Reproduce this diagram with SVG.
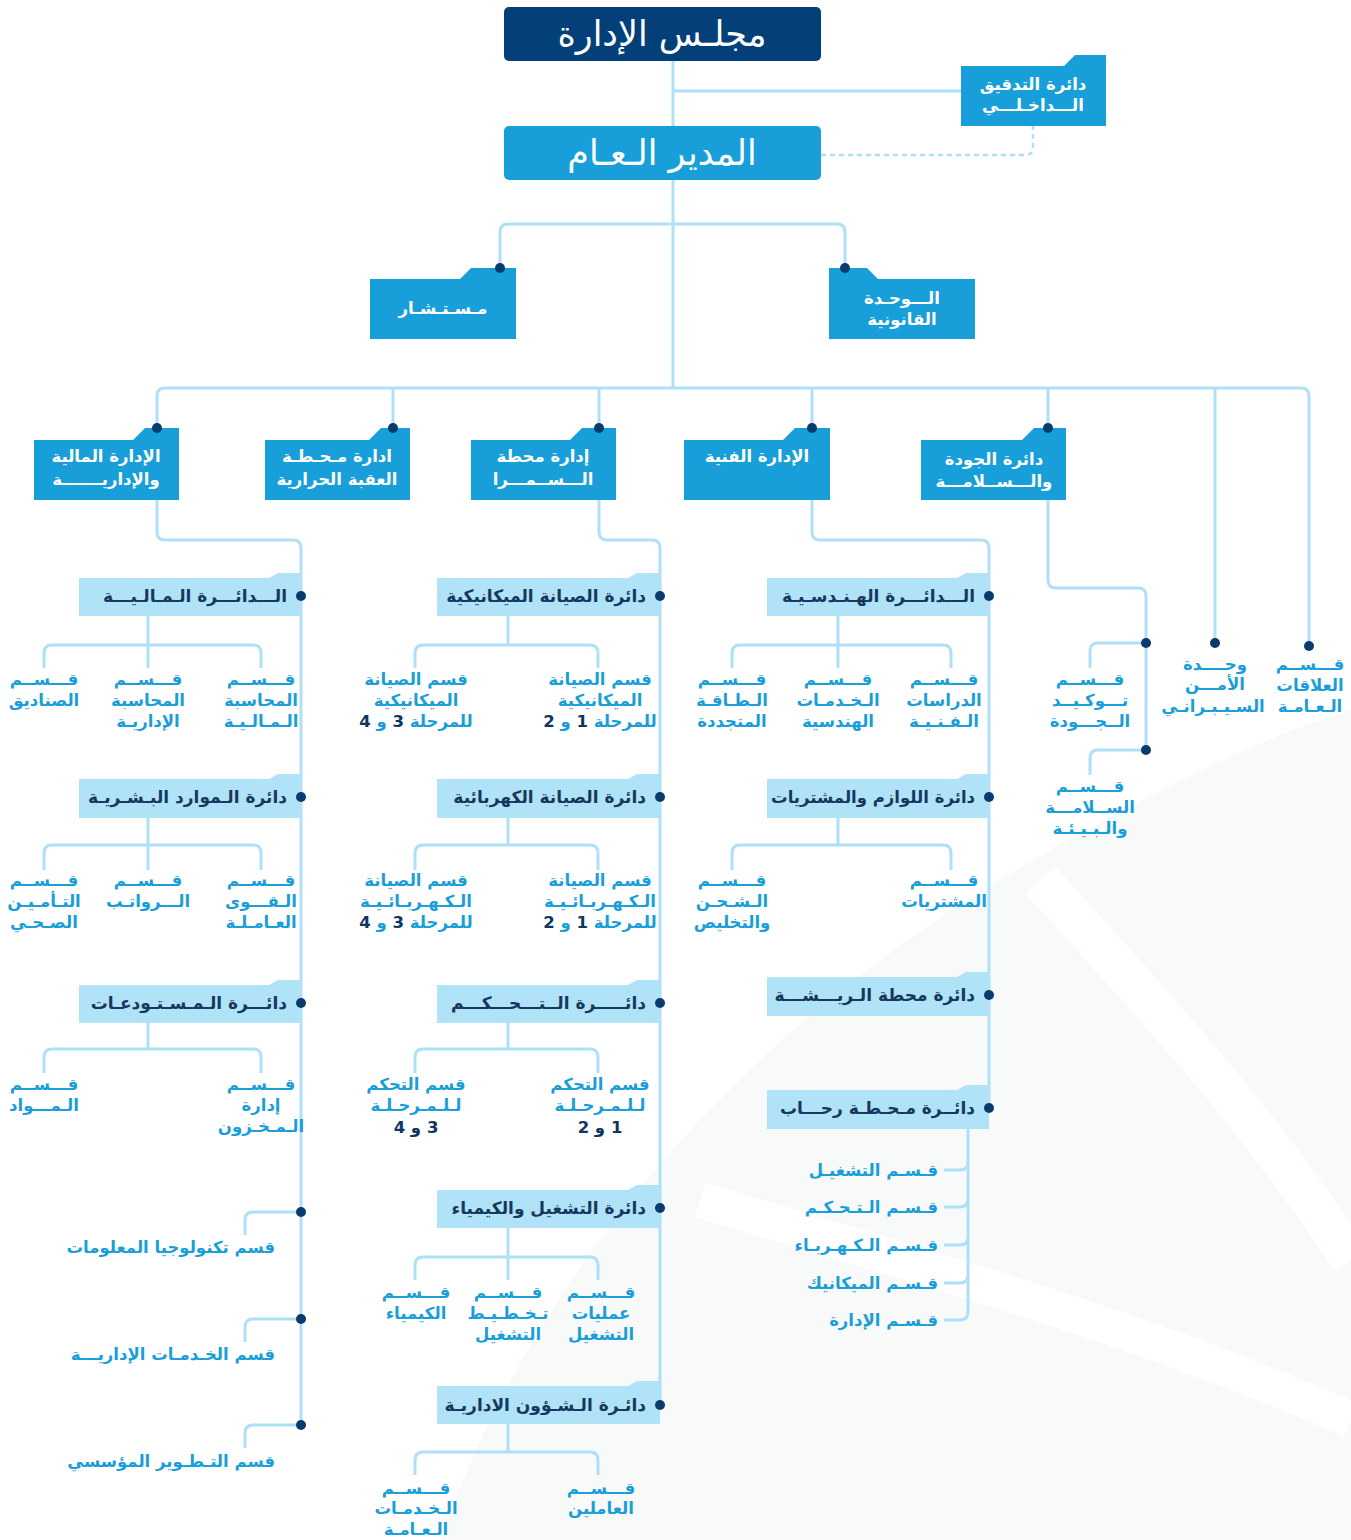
<svg xmlns="http://www.w3.org/2000/svg" width="1351" height="1540" viewBox="0 0 1351 1540">
<style>
text{font-family:"DejaVu Sans","Noto Sans",sans-serif;direction:rtl}
.t{fill:#fff;font-size:35px;text-anchor:middle}
.w{fill:#fff;font-size:16.5px;font-weight:bold;text-anchor:middle}
.d{fill:#16385f;font-size:17px;font-weight:bold;text-anchor:start}
.c{fill:#1a9ed9;font-size:16.5px;font-weight:bold;text-anchor:middle}
.r{fill:#1a9ed9;font-size:16.5px;font-weight:bold;text-anchor:start}
.n{fill:#0f3560}
.ln{fill:none;stroke:#aee0f7;stroke-width:3}
.dash{fill:none;stroke:#aee0f7;stroke-width:2.5;stroke-dasharray:5 4}
.bx{fill:#189fd9}
.lb{fill:#b0e2f8}
.dot{fill:#0a3b6c}
</style>
<g id="background">
<path d="M440,1540 C520,1310 700,1060 1000,880 C1150,790 1280,730 1351,710 V1540 Z" fill="#f8f9f9"/>
<path d="M1040,880 C1150,1000 1260,1120 1351,1260" fill="none" stroke="#fff" stroke-width="40"/>
<path d="M700,1200 C900,1260 1150,1330 1351,1420" fill="none" stroke="#fff" stroke-width="36"/>
</g>
<g id="connectors">
<path class="ln" d="M673,61 V388"/>
<path class="ln" d="M673,91 H961"/>
<path class="dash" d="M821,155 H1025 Q1033,155 1033,147 V126"/>
<path class="ln" d="M500,268 V232 Q500,224 508,224 H837 Q845,224 845,232 V268"/>
<path class="ln" d="M157,428 V396 Q157,388 165,388 H1301 Q1309,388 1309,396 V646"/>
<path class="ln" d="M393,388 V428 M599,388 V428 M812,388 V428 M1048,388 V428 M1215,388 V643"/>
<path class="ln" d="M157,500 V532 Q157,540 165,540 H293 Q301,540 301,548 V1425"/>
<path class="ln" d="M599,500 V532 Q599,540 607,540 H652 Q660,540 660,548 V1405"/>
<path class="ln" d="M812,500 V532 Q812,540 820,540 H981 Q989,540 989,548 V1108"/>
<path class="ln" d="M1048,500 V580 Q1048,588 1056,588 H1138 Q1146,588 1146,596 V750"/>
<path class="ln" d="M1146,643 H1098 Q1090,643 1090,651 V668 M1146,750 H1098 Q1090,750 1090,758 V775"/>
<path class="ln" d="M301,1212 H253 Q245,1212 245,1220 V1235 M301,1319 H253 Q245,1319 245,1327 V1342 M301,1425 H253 Q245,1425 245,1433 V1448"/>
<path class="ln" d="M148,616 V645 M44,668 V653 Q44,645 52,645 H253 Q261,645 261,653 V668 M148,645 V668"/>
<path class="ln" d="M148,818 V845 M44,870 V853 Q44,845 52,845 H253 Q261,845 261,853 V870 M148,845 V870"/>
<path class="ln" d="M148,1023 V1049 M44,1073 V1057 Q44,1049 52,1049 H253 Q261,1049 261,1057 V1073"/>
<path class="ln" d="M508,616 V645 M415,668 V653 Q415,645 423,645 H590 Q598,645 598,653 V668"/>
<path class="ln" d="M508,818 V845 M415,870 V853 Q415,845 423,845 H590 Q598,845 598,853 V870"/>
<path class="ln" d="M508,1023 V1049 M415,1073 V1057 Q415,1049 423,1049 H590 Q598,1049 598,1057 V1073"/>
<path class="ln" d="M508,1228 V1280 M415,1280 V1265 Q415,1257 423,1257 H590 Q598,1257 598,1265 V1280"/>
<path class="ln" d="M508,1424 V1452 M415,1475 V1460 Q415,1452 423,1452 H590 Q598,1452 598,1460 V1475"/>
<path class="ln" d="M838,616 V645 M732,668 V653 Q732,645 740,645 H943 Q951,645 951,653 V668 M838,645 V668"/>
<path class="ln" d="M838,818 V845 M732,870 V853 Q732,845 740,845 H943 Q951,845 951,853 V870"/>
<path class="ln" d="M968,1129 V1312 Q968,1320 960,1320 H944 M944,1170 H960 Q968,1170 968,1162 M944,1207 H960 Q968,1207 968,1199 M944,1245 H960 Q968,1245 968,1237 M944,1283 H960 Q968,1283 968,1275"/>
</g>
<g id="board"><rect x="504" y="7" width="317" height="54" rx="5" fill="#033f78"/><text class="t" x="662" y="46">مجلـس الإدارة</text></g>
<g id="gm"><rect x="504" y="126" width="317" height="54" rx="5" fill="#189fd9"/><text class="t" x="662" y="165">المدير الـعـام</text></g>
<g id="audit"><path class="bx" d="M961,66 H1064 L1075,55 H1106 V126 H961 Z"/><text class="w" x="1033" y="90">دائرة التدقيق</text><text class="w" x="1033" y="111">الـــداخـلـــي</text></g>
<g id="advisor"><path class="bx" d="M370,279 H460 L471,268 H516 V339 H370 Z"/><circle class="dot" cx="500" cy="268" r="5"/><text class="w" x="443" y="314">مـسـتـشـار</text></g>
<g id="legal"><path class="bx" d="M829,268 H867 L878,279 H975 V339 H829 Z"/><circle class="dot" cx="845" cy="268" r="5"/><text class="w" x="902" y="304">الـــوحـدة</text><text class="w" x="902" y="325">القانونية</text></g>
<g id="fin-admin"><path class="bx" d="M34,440 H133 L145,428 H179 V500 H34 Z"/><circle class="dot" cx="157" cy="428" r="5"/><text class="w" x="106" y="462">الإدارة المالية</text><text class="w" x="106" y="485">والإداريـــــــة</text></g>
<g id="aqaba"><path class="bx" d="M265,440 H369 L381,428 H410 V500 H265 Z"/><circle class="dot" cx="393" cy="428" r="5"/><text class="w" x="337" y="462">ادارة مـحـطـة</text><text class="w" x="337" y="485">العقبة الحرارية</text></g>
<g id="samra"><path class="bx" d="M471,440 H570 L582,428 H616 V500 H471 Z"/><circle class="dot" cx="599" cy="428" r="5"/><text class="w" x="543" y="462">إدارة محطة</text><text class="w" x="543" y="485">الـــســمـــرا</text></g>
<g id="technical"><path class="bx" d="M684,440 H783 L795,428 H830 V500 H684 Z"/><circle class="dot" cx="812" cy="428" r="5"/><text class="w" x="757" y="462">الإدارة الفنية</text></g>
<g id="quality"><path class="bx" d="M921,440 H1022 L1034,428 H1066 V500 H921 Z"/><circle class="dot" cx="1048" cy="428" r="5"/><text class="w" x="994" y="465">دائرة الجودة</text><text class="w" x="994" y="487">والـــســلامـــة</text></g>
<g id="cyber"><circle class="dot" cx="1215" cy="643" r="5"/><text class="c" x="1215" y="670">وحــــدة</text><text class="c" x="1215" y="690">الأمـــن</text><text class="c" x="1213" y="712">السـيـبـرانـي</text></g>
<g id="pr"><circle class="dot" cx="1309" cy="646" r="5"/><text class="c" x="1310" y="670">قـــســم</text><text class="c" x="1310" y="691">العلاقات</text><text class="c" x="1310" y="712">الـعـامـة</text></g>
<g id="qa"><circle class="dot" cx="1146" cy="643" r="5"/><text class="c" x="1090" y="685">قـــســم</text><text class="c" x="1090" y="706">تـــوكـيــد</text><text class="c" x="1090" y="727">الــجـــودة</text></g>
<g id="safety"><circle class="dot" cx="1146" cy="750" r="5"/><text class="c" x="1090" y="792">قـــســم</text><text class="c" x="1090" y="813">الســلامـــة</text><text class="c" x="1090" y="834">والـبـيـئـة</text></g>
<g id="fin-dept"><path class="lb" d="M79,578 H269 L278,573 H301 V616 H79 Z"/><circle class="dot" cx="301" cy="596" r="5"/><text class="d" x="287" y="602">الـــدائـــرة الـمـالـيـــة</text></g>
<g id="fin-children"><text class="c" x="261" y="685">قـــســم</text><text class="c" x="261" y="706">المحاسبة</text><text class="c" x="261" y="727">الـمـالـيـة</text><text class="c" x="148" y="685">قـــســم</text><text class="c" x="148" y="706">المحاسبة</text><text class="c" x="148" y="727">الإداريـة</text><text class="c" x="44" y="685">قـــســم</text><text class="c" x="44" y="706">الصناديق</text></g>
<g id="hr-dept"><path class="lb" d="M79,779 H269 L278,774 H301 V818 H79 Z"/><circle class="dot" cx="301" cy="797" r="5"/><text class="d" x="287" y="803">دائرة الـموارد البـشـريـة</text></g>
<g id="hr-children"><text class="c" x="261" y="886">قـــســم</text><text class="c" x="261" y="907">الـقـــوى</text><text class="c" x="261" y="928">العـامـلـة</text><text class="c" x="148" y="886">قـــســم</text><text class="c" x="148" y="907">الـــرواتـب</text><text class="c" x="44" y="886">قـــســم</text><text class="c" x="44" y="907">التـأمـيـن</text><text class="c" x="44" y="928">الصـحـي</text></g>
<g id="stores-dept"><path class="lb" d="M79,985 H269 L278,980 H301 V1023 H79 Z"/><circle class="dot" cx="301" cy="1003" r="5"/><text class="d" x="287" y="1009">دائـــرة الـمـسـتـودعـات</text></g>
<g id="stores-children"><text class="c" x="261" y="1090">قـــســم</text><text class="c" x="261" y="1111">إدارة</text><text class="c" x="261" y="1132">الـمـخـزون</text><text class="c" x="44" y="1090">قـــســم</text><text class="c" x="44" y="1111">الـمـــواد</text></g>
<g id="it"><circle class="dot" cx="301" cy="1212" r="5"/><text class="r" x="275" y="1253">قسم تكنولوجيا المعلومات</text></g>
<g id="admin-services"><circle class="dot" cx="301" cy="1319" r="5"/><text class="r" x="275" y="1360">قسم الخـدمـات الإداريـــة</text></g>
<g id="dev"><circle class="dot" cx="301" cy="1425" r="5"/><text class="r" x="275" y="1467">قسم التـطـوير المؤسسي</text></g>
<g id="mech-dept"><path class="lb" d="M437,578 H628 L637,573 H660 V616 H437 Z"/><circle class="dot" cx="660" cy="596" r="5"/><text class="d" x="646" y="602">دائرة الصيانة الميكانيكية</text></g>
<g id="mech-children"><text class="c" x="600" y="685">قسم الصيانة</text><text class="c" x="600" y="706">الميكانيكية</text><text class="c" x="600" y="727">للمرحلة <tspan class="n">1</tspan> و <tspan class="n">2</tspan></text><text class="c" x="416" y="685">قسم الصيانة</text><text class="c" x="416" y="706">الميكانيكية</text><text class="c" x="416" y="727">للمرحلة <tspan class="n">3</tspan> و <tspan class="n">4</tspan></text></g>
<g id="elec-dept"><path class="lb" d="M437,779 H628 L637,774 H660 V818 H437 Z"/><circle class="dot" cx="660" cy="797" r="5"/><text class="d" x="646" y="803">دائرة الصيانة الكهربائية</text></g>
<g id="elec-children"><text class="c" x="600" y="886">قسم الصيانة</text><text class="c" x="600" y="907">الـكـهـربـائـيـة</text><text class="c" x="600" y="928">للمرحلة <tspan class="n">1</tspan> و <tspan class="n">2</tspan></text><text class="c" x="416" y="886">قسم الصيانة</text><text class="c" x="416" y="907">الـكـهـربـائـيـة</text><text class="c" x="416" y="928">للمرحلة <tspan class="n">3</tspan> و <tspan class="n">4</tspan></text></g>
<g id="control-dept"><path class="lb" d="M437,985 H628 L637,980 H660 V1023 H437 Z"/><circle class="dot" cx="660" cy="1003" r="5"/><text class="d" x="646" y="1009">دائـــــرة الــتـــحـــكـــم</text></g>
<g id="control-children"><text class="c" x="600" y="1090">قسم التحكم</text><text class="c" x="600" y="1111">لـلـمـرحـلـة</text><text class="c n" x="600" y="1133">1 و 2</text><text class="c" x="416" y="1090">قسم التحكم</text><text class="c" x="416" y="1111">لـلـمـرحـلـة</text><text class="c n" x="416" y="1133">3 و 4</text></g>
<g id="ops-dept"><path class="lb" d="M437,1190 H628 L637,1185 H660 V1228 H437 Z"/><circle class="dot" cx="660" cy="1208" r="5"/><text class="d" x="646" y="1214">دائرة التشغيل والكيمياء</text></g>
<g id="ops-children"><text class="c" x="601" y="1298">قـــســم</text><text class="c" x="601" y="1319">عمليات</text><text class="c" x="601" y="1340">التشغيل</text><text class="c" x="508" y="1298">قـــســم</text><text class="c" x="508" y="1319">تـخـطـيـط</text><text class="c" x="508" y="1340">التشغيل</text><text class="c" x="416" y="1298">قـــســم</text><text class="c" x="416" y="1319">الكيمياء</text></g>
<g id="adm-dept"><path class="lb" d="M437,1386 H628 L637,1381 H660 V1424 H437 Z"/><circle class="dot" cx="660" cy="1405" r="5"/><text class="d" x="646" y="1411">دائـرة الـشـؤون الاداريـة</text></g>
<g id="adm-children"><text class="c" x="601" y="1494">قـــســم</text><text class="c" x="601" y="1514">العاملين</text><text class="c" x="416" y="1494">قـــســم</text><text class="c" x="416" y="1514">الـخـدمـات</text><text class="c" x="416" y="1535">الـعـامـة</text></g>
<g id="eng-dept"><path class="lb" d="M767,578 H957 L966,573 H989 V616 H767 Z"/><circle class="dot" cx="989" cy="596" r="5"/><text class="d" x="975" y="602">الـــدائـــرة الهـنـدسـيـة</text></g>
<g id="eng-children"><text class="c" x="944" y="685">قـــســم</text><text class="c" x="944" y="706">الدراسات</text><text class="c" x="944" y="727">الـفـنـيـة</text><text class="c" x="838" y="685">قـــســم</text><text class="c" x="838" y="706">الـخـدمـات</text><text class="c" x="838" y="727">الهندسية</text><text class="c" x="732" y="685">قـــســم</text><text class="c" x="732" y="706">الـطـاقـة</text><text class="c" x="732" y="727">المتجددة</text></g>
<g id="supplies-dept"><path class="lb" d="M767,779 H957 L966,774 H989 V818 H767 Z"/><circle class="dot" cx="989" cy="797" r="5"/><text class="d" x="975" y="803" style="font-size:16.5px">دائرة اللوازم والمشتريات</text></g>
<g id="supplies-children"><text class="c" x="944" y="886">قـــســم</text><text class="c" x="944" y="907">المشتريات</text><text class="c" x="732" y="886">قـــســم</text><text class="c" x="732" y="907">الـشـحـن</text><text class="c" x="732" y="928">والتخليص</text></g>
<g id="risha-dept"><path class="lb" d="M767,977 H957 L966,972 H989 V1016 H767 Z"/><circle class="dot" cx="989" cy="995" r="5"/><text class="d" x="975" y="1001">دائرة محطة الـريـــشـــة</text></g>
<g id="rahab-dept"><path class="lb" d="M767,1090 H957 L966,1085 H989 V1129 H767 Z"/><circle class="dot" cx="989" cy="1108" r="5"/><text class="d" x="975" y="1114">دائــرة مـحـطـة رحـــاب</text></g>
<g id="rahab-children"><text class="r" x="938" y="1176">قـسـم التشغيـل</text><text class="r" x="938" y="1213">قـسـم الـتـحـكـم</text><text class="r" x="938" y="1251">قـسـم الـكـهـربـاء</text><text class="r" x="938" y="1289">قـسـم الميكانيك</text><text class="r" x="938" y="1326">قـسـم الإدارة</text></g>
</svg>
